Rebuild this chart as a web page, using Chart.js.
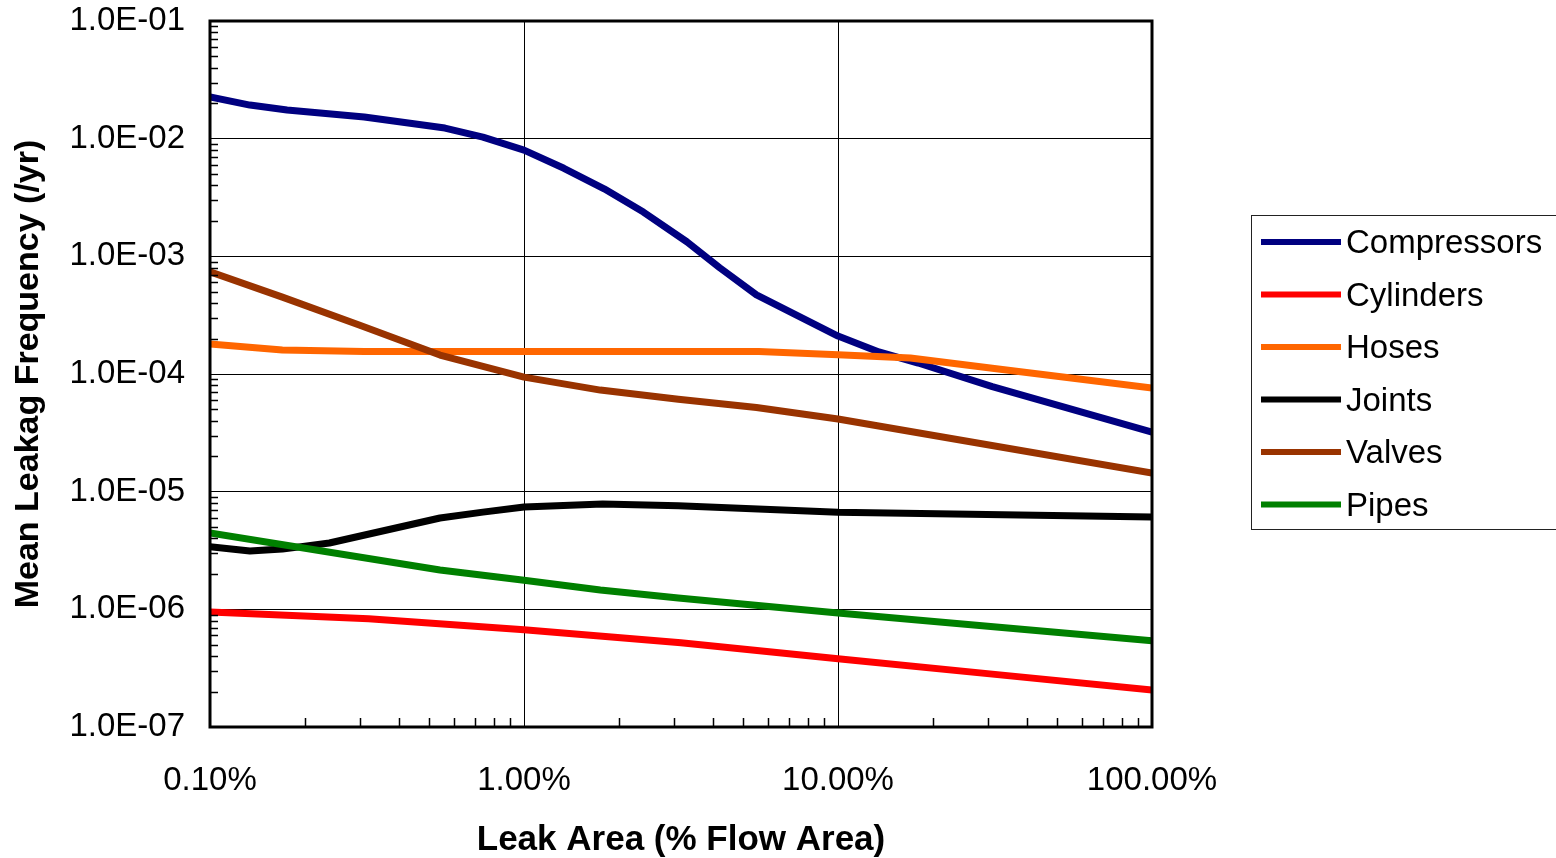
<!DOCTYPE html>
<html>
<head>
<meta charset="utf-8">
<script src="https://cdn.jsdelivr.net/npm/chart.js@4/dist/chart.umd.min.js"></script>
<style>
  html, body { margin: 0; padding: 0; background: #fff; }
  #wrap { width: 1556px; height: 858px; }
</style>
</head>
<body>
<div id="wrap"><canvas id="c" width="1556" height="858"></canvas></div>
<script>
// Leak area, % of flow area (x) and mean leak frequency per year (y) for each component
const compressorsX = [0.1, 0.134, 0.176, 0.31, 0.56, 0.74, 1.0, 1.34, 1.8, 2.4, 3.3, 4.2, 5.5, 10, 13.5, 18, 31, 100];
const compressorsY = [2.26e-2, 1.93e-2, 1.75e-2, 1.53e-2, 1.23e-2, 1.03e-2, 8.0e-3, 5.6e-3, 3.75e-3, 2.38e-3, 1.33e-3, 8.0e-4, 4.7e-4, 2.1e-4, 1.54e-4, 1.24e-4, 7.8e-5, 3.2e-5];

const cylindersX = [0.1, 0.32, 1, 3.16, 10, 31.6, 100];
const cylindersY = [9.5e-7, 8.3e-7, 6.7e-7, 5.2e-7, 3.8e-7, 2.8e-7, 2.06e-7];

const hosesX = [0.1, 0.17, 0.31, 1, 5.6, 10, 17, 31, 100];
const hosesY = [1.8e-4, 1.6e-4, 1.55e-4, 1.55e-4, 1.55e-4, 1.46e-4, 1.37e-4, 1.12e-4, 7.6e-5];

const jointsX = [0.1, 0.134, 0.17, 0.24, 0.54, 0.74, 1, 1.78, 3.1, 10, 100];
const jointsY = [3.4e-6, 3.13e-6, 3.25e-6, 3.66e-6, 5.97e-6, 6.7e-6, 7.4e-6, 7.85e-6, 7.6e-6, 6.7e-6, 6.1e-6];

const valvesX = [0.1, 0.17, 0.3, 0.54, 1, 1.75, 3.1, 5.5, 10, 100];
const valvesY = [7.4e-4, 4.5e-4, 2.6e-4, 1.45e-4, 9.4e-5, 7.3e-5, 6.1e-5, 5.2e-5, 4.15e-5, 1.44e-5];

const pipesX = [0.1, 0.54, 1, 1.75, 3.1, 10, 100];
const pipesY = [4.46e-6, 2.16e-6, 1.77e-6, 1.46e-6, 1.25e-6, 9.3e-7, 5.4e-7];

const seriesNames = ['Compressors', 'Cylinders', 'Hoses', 'Joints', 'Valves', 'Pipes'];
const seriesColors = ['#000080', '#FF0000', '#FF6600', '#000000', '#993300', '#008000'];
const seriesX = [compressorsX, cylindersX, hosesX, jointsX, valvesX, pipesX];
const seriesY = [compressorsY, cylindersY, hosesY, jointsY, valvesY, pipesY];

const xTicks = [0.1, 1, 10, 100];
const yTicks = [1e-7, 1e-6, 1e-5, 1e-4, 1e-3, 1e-2, 1e-1];

const FONT = "'Liberation Sans', Arial, Helvetica, sans-serif";

function pairs(xs, ys) { return xs.map((x, i) => ({ x: x, y: ys[i] })); }

const datasets = seriesNames.map((name, i) => ({
  label: name,
  data: pairs(seriesX[i], seriesY[i]),
  borderColor: seriesColors[i],
  backgroundColor: seriesColors[i],
  borderWidth: 7,
  pointRadius: 0,
  tension: 0,
  fill: false,
  borderJoinStyle: 'round',
  order: seriesNames.length - i   // later series are drawn on top
}));

// Frame, inward minor ticks and the boxed legend
const decorations = {
  id: 'decorations',
  afterDatasetsDraw(chart) {
    const { ctx, chartArea: a, scales } = chart;
    ctx.save();
    ctx.strokeStyle = '#000';
    ctx.lineWidth = 1.5;
    ctx.beginPath();
    for (let d = 0; d < yTicks.length - 1; d++) {
      for (let m = 2; m <= 9; m++) {
        const py = Math.round(scales.y.getPixelForValue(yTicks[d] * m)) + 0.5;
        ctx.moveTo(a.left, py); ctx.lineTo(a.left + 8, py);
      }
    }
    for (let d = 0; d < xTicks.length - 1; d++) {
      for (let m = 2; m <= 9; m++) {
        const px = Math.round(scales.x.getPixelForValue(xTicks[d] * m)) + 0.5;
        ctx.moveTo(px, a.bottom); ctx.lineTo(px, a.bottom - 9);
      }
    }
    ctx.stroke();
    ctx.lineWidth = 3;
    ctx.strokeRect(a.left, a.top, a.right - a.left, a.bottom - a.top);
    ctx.restore();
  },
  afterDraw(chart) {
    const { ctx } = chart;
    ctx.save();
    ctx.strokeStyle = '#222';
    ctx.lineWidth = 1;
    ctx.strokeRect(1251.5, 215.5, 310, 314);
    ctx.font = '33px ' + FONT;
    ctx.textBaseline = 'middle';
    ctx.textAlign = 'left';
    chart.data.datasets.forEach((ds, i) => {
      const y = 242 + i * 52.5;
      ctx.strokeStyle = ds.borderColor;
      ctx.lineWidth = 6;
      ctx.beginPath();
      ctx.moveTo(1261, y); ctx.lineTo(1341, y);
      ctx.stroke();
      ctx.fillStyle = '#000';
      ctx.fillText(ds.label, 1346, y + 2);
    });
    ctx.restore();
  }
};

new Chart(document.getElementById('c'), {
  type: 'line',
  data: { datasets: datasets },
  plugins: [decorations],
  options: {
    responsive: false,
    animation: false,
    layout: { padding: { top: 21, right: 404, left: 0, bottom: 0 } },
    plugins: { legend: { display: false }, tooltip: { enabled: false } },
    scales: {
      x: {
        type: 'logarithmic',
        position: 'bottom',
        min: 0.1, max: 100,
        afterBuildTicks(scale) { scale.ticks = xTicks.map(v => ({ value: v, major: true })); },
        afterFit(scale) { scale.height = 131; scale.paddingLeft = 0; scale.paddingRight = 0; },
        grid: { color: '#000', lineWidth: 1, drawTicks: false },
        border: { display: false },
        ticks: {
          autoSkip: false, maxRotation: 0, padding: 34, color: '#000',
          font: { family: FONT, size: 33 },
          callback: v => Number(v).toFixed(2) + '%'
        },
        title: {
          display: true, text: 'Leak Area (% Flow Area)', color: '#000',
          font: { family: FONT, size: 35, weight: 'bold' },
          padding: { top: 0, bottom: -3 }
        }
      },
      y: {
        type: 'logarithmic',
        position: 'left',
        min: 1e-7, max: 1e-1,
        afterBuildTicks(scale) { scale.ticks = yTicks.map(v => ({ value: v, major: true })); },
        afterFit(scale) { scale.width = 210; scale.paddingTop = 0; scale.paddingBottom = 0; },
        grid: { color: '#000', lineWidth: 1, drawTicks: false },
        border: { display: false },
        ticks: {
          autoSkip: false, padding: 25, color: '#000',
          font: { family: FONT, size: 33 },
          callback: v => {
            const e = Math.round(Math.log10(v));
            return '1.0E' + (e < 0 ? '-' : '+') + String(Math.abs(e)).padStart(2, '0');
          }
        },
        title: {
          display: true, text: 'Mean Leakag Frequency (/yr)', color: '#000',
          font: { family: FONT, size: 34, weight: 'bold' },
          padding: { top: 8, bottom: 0 }
        }
      }
    }
  }
});
</script>
</body>
</html>
